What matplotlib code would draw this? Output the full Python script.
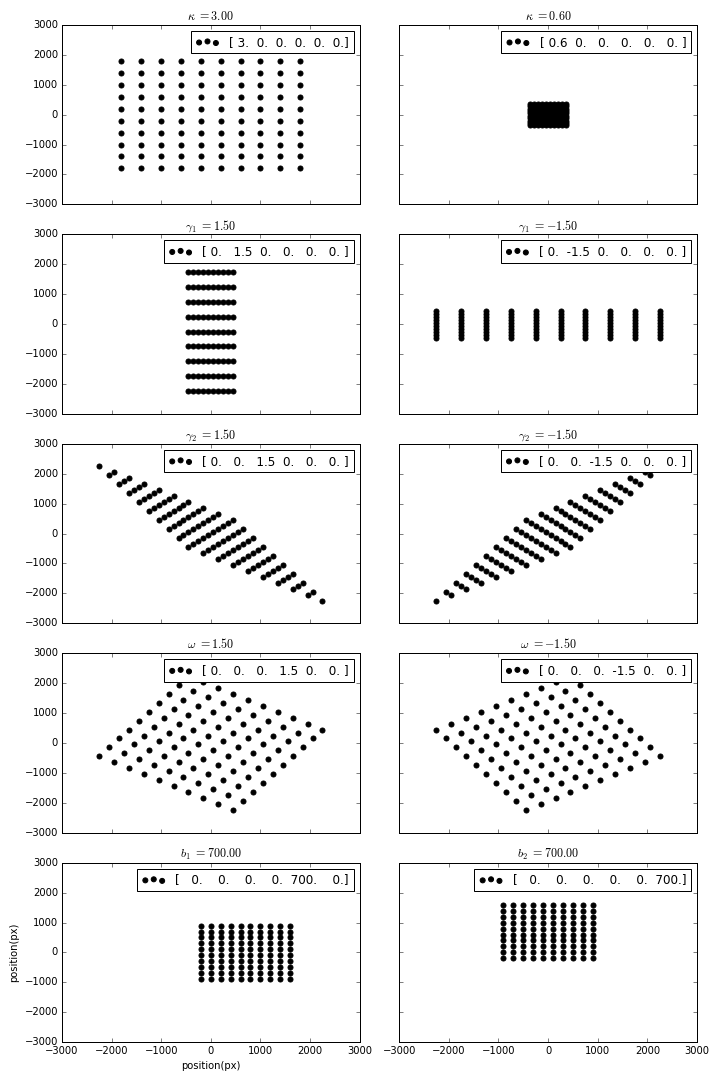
import numpy as np
import matplotlib
matplotlib.use('Agg')
import matplotlib.pyplot as plt

plt.style.use('classic')
plt.rcParams['font.size'] = 10
np.set_printoptions(legacy='1.13')   # old style "[ 3.  0. ...]" in the legends

# base 10x10 grid of source positions (px)
grid_x = [-900, -700, -500, -300, -100, 100, 300, 500, 700, 900]
grid_y = [-900, -700, -500, -300, -100, 100, 300, 500, 700, 900]

# parameters per panel: kappa, gamma1, gamma2, omega, b1, b2
kappa = [3.0, 0.6, 0.0, 0.0, 0.0, 0.0, 0.0, 0.0, 0.0, 0.0]
gamma1 = [0.0, 0.0, 1.5, -1.5, 0.0, 0.0, 0.0, 0.0, 0.0, 0.0]
gamma2 = [0.0, 0.0, 0.0, 0.0, 1.5, -1.5, 0.0, 0.0, 0.0, 0.0]
omega = [0.0, 0.0, 0.0, 0.0, 0.0, 0.0, 1.5, -1.5, 0.0, 0.0]
b1 = [0.0, 0.0, 0.0, 0.0, 0.0, 0.0, 0.0, 0.0, 700.0, 0.0]
b2 = [0.0, 0.0, 0.0, 0.0, 0.0, 0.0, 0.0, 0.0, 0.0, 700.0]

names = [r'\kappa', r'\kappa', r'\gamma_1', r'\gamma_1', r'\gamma_2', r'\gamma_2',
         r'\omega', r'\omega', r'b_1', r'b_2']
shown = [kappa[0], kappa[1], gamma1[2], gamma1[3], gamma2[4], gamma2[5],
         omega[6], omega[7], b1[8], b2[9]]

X0, Y0 = np.meshgrid(grid_x, grid_y)
X0 = X0.ravel(); Y0 = Y0.ravel()

fig, axes = plt.subplots(5, 2, sharex=True, sharey=True, figsize=(10, 15), dpi=72)
for i, ax in enumerate(axes.ravel()):
    p = np.array([kappa[i], gamma1[i], gamma2[i], omega[i], b1[i], b2[i]])
    # linear lens mapping + shift
    xs = (1 - p[0] - p[1]) * X0 + (-p[2] - p[3]) * Y0 + p[4]
    ys = (-p[2] + p[3]) * X0 + (1 - p[0] + p[1]) * Y0 + p[5]
    ax.scatter(xs, ys, c='k', s=25, label=str(p))
    ax.set_title(r'$%s\ {=}{%.2f}$' % (names[i], shown[i]), fontsize=12)
    ax.legend(loc='upper right', fontsize=12)
    ax.set_xlim(-3000, 3000)
    ax.set_ylim(-3000, 3000)

axes[4, 0].set_xlabel('position(px)')
axes[4, 0].set_ylabel('position(px)')

fig.subplots_adjust(left=0.086, right=0.968, top=0.977, bottom=0.035, wspace=0.133, hspace=0.167)
fig.savefig('out.png', dpi=72)
